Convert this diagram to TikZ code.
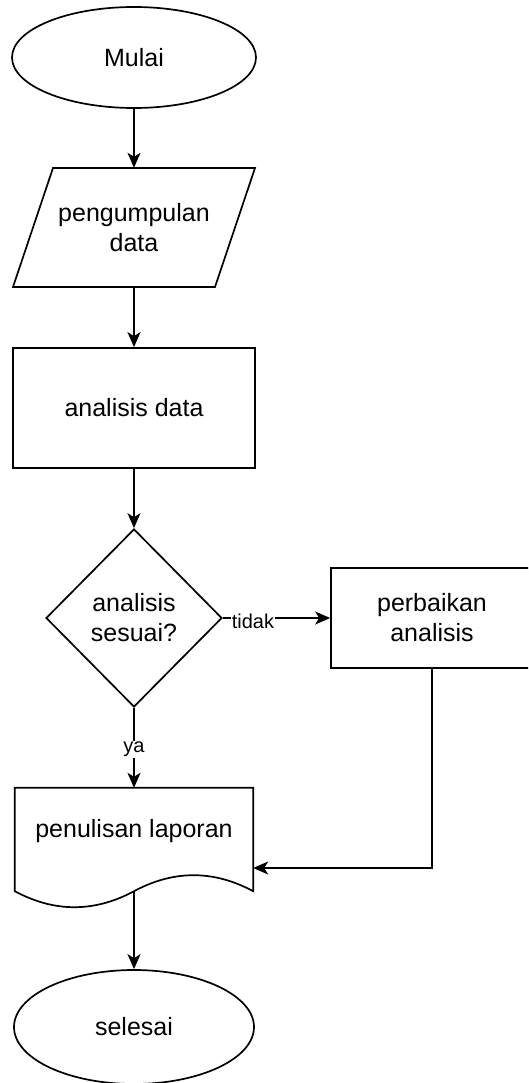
\documentclass[tikz,border=0pt]{standalone}
\usepackage{fontspec}
\setmainfont{Liberation Sans}
\usetikzlibrary{shapes.geometric,arrows.meta,calc}
\tikzset{
  txt/.style={font=\fontsize{25}{30}\selectfont, align=center, text=black},
  lbl/.style={font=\fontsize{20}{23}\selectfont, text=black, fill=white, inner sep=1pt},
  outline/.style={draw=black, line width=1.7pt},
  term/.style={txt, outline, ellipse, inner sep=0pt},
  proc/.style={txt, outline, rectangle, inner sep=0pt},
  ghost/.style={rectangle, inner sep=0pt},
  decide/.style={txt, outline, diamond, aspect=1, inner sep=0pt},
  arr/.style={draw=black, line width=1.7pt, -{Stealth[length=15pt,width=13pt,inset=4pt]}},
  conn/.style={draw=black, line width=1.7pt}
}
\begin{document}
\begin{tikzpicture}[x=1pt,y=-1pt]
\clip (0,0) rectangle (528,1083);
\fill[white] (0,0) rectangle (528,1083);

% Mulai
\node[term, minimum width=244pt, minimum height=101pt] (mulai) at (134,57.5) {Mulai};

% pengumpulan data (parallelogram)
\node[ghost, minimum width=202pt, minimum height=119pt] (pd) at (134,227.5) {};
\draw[outline] (53,168) -- (255,168) -- (215,287) -- (13,287) -- cycle;
\node[txt] (pdtext) at (134,228) {pengumpulan\\data};

% analisis data
\node[proc, minimum width=242pt, minimum height=120pt] (ad) at (134,408) {analisis data};

% decision
\node[decide, minimum width=176pt, minimum height=178pt] (dec) at (134,618) {analisis\\sesuai?};

% perbaikan analisis
\node[proc, minimum width=202pt, minimum height=100pt] (per) at (432,618) {perbaikan\\analisis};

% document
\node[ghost, minimum width=238pt, minimum height=103pt] (doc) at (134,839.5) {};
\draw[outline] (doc.north west) -- (doc.north east) -- (doc.south east)
  .. controls ($(doc.south east)+(-39.67,-21.33)$) and ($(doc.south)+(39.67,-21.33)$) .. (doc.south)
  .. controls ($(doc.south)+(-39.67,21.33)$) and ($(doc.south west)+(39.67,21.33)$) .. (doc.south west)
  -- cycle;
\node[txt] (doctext) at (134,831) {penulisan laporan};

% selesai
\node[term, minimum width=240pt, minimum height=114pt] (selesai) at (134,1027) {selesai};

% connectors
\draw[arr] (mulai.south) -- (pd.north);
\draw[arr] (pd.south) -- (ad.north);
\draw[arr] (ad.south) -- (dec.north);
\draw[arr] (dec.east) -- node[lbl, pos=0.28, yshift=-3pt] (tidak) {tidak} (per.west);
\draw[arr] (dec.south) -- node[lbl, pos=0.52] (ya) {ya} (doc.north);
\draw[arr] (per.south) |- ([yshift=-28.5pt]doc.east);
\draw[arr] (doc.south) -- (selesai.north);
\end{tikzpicture}
\end{document}
